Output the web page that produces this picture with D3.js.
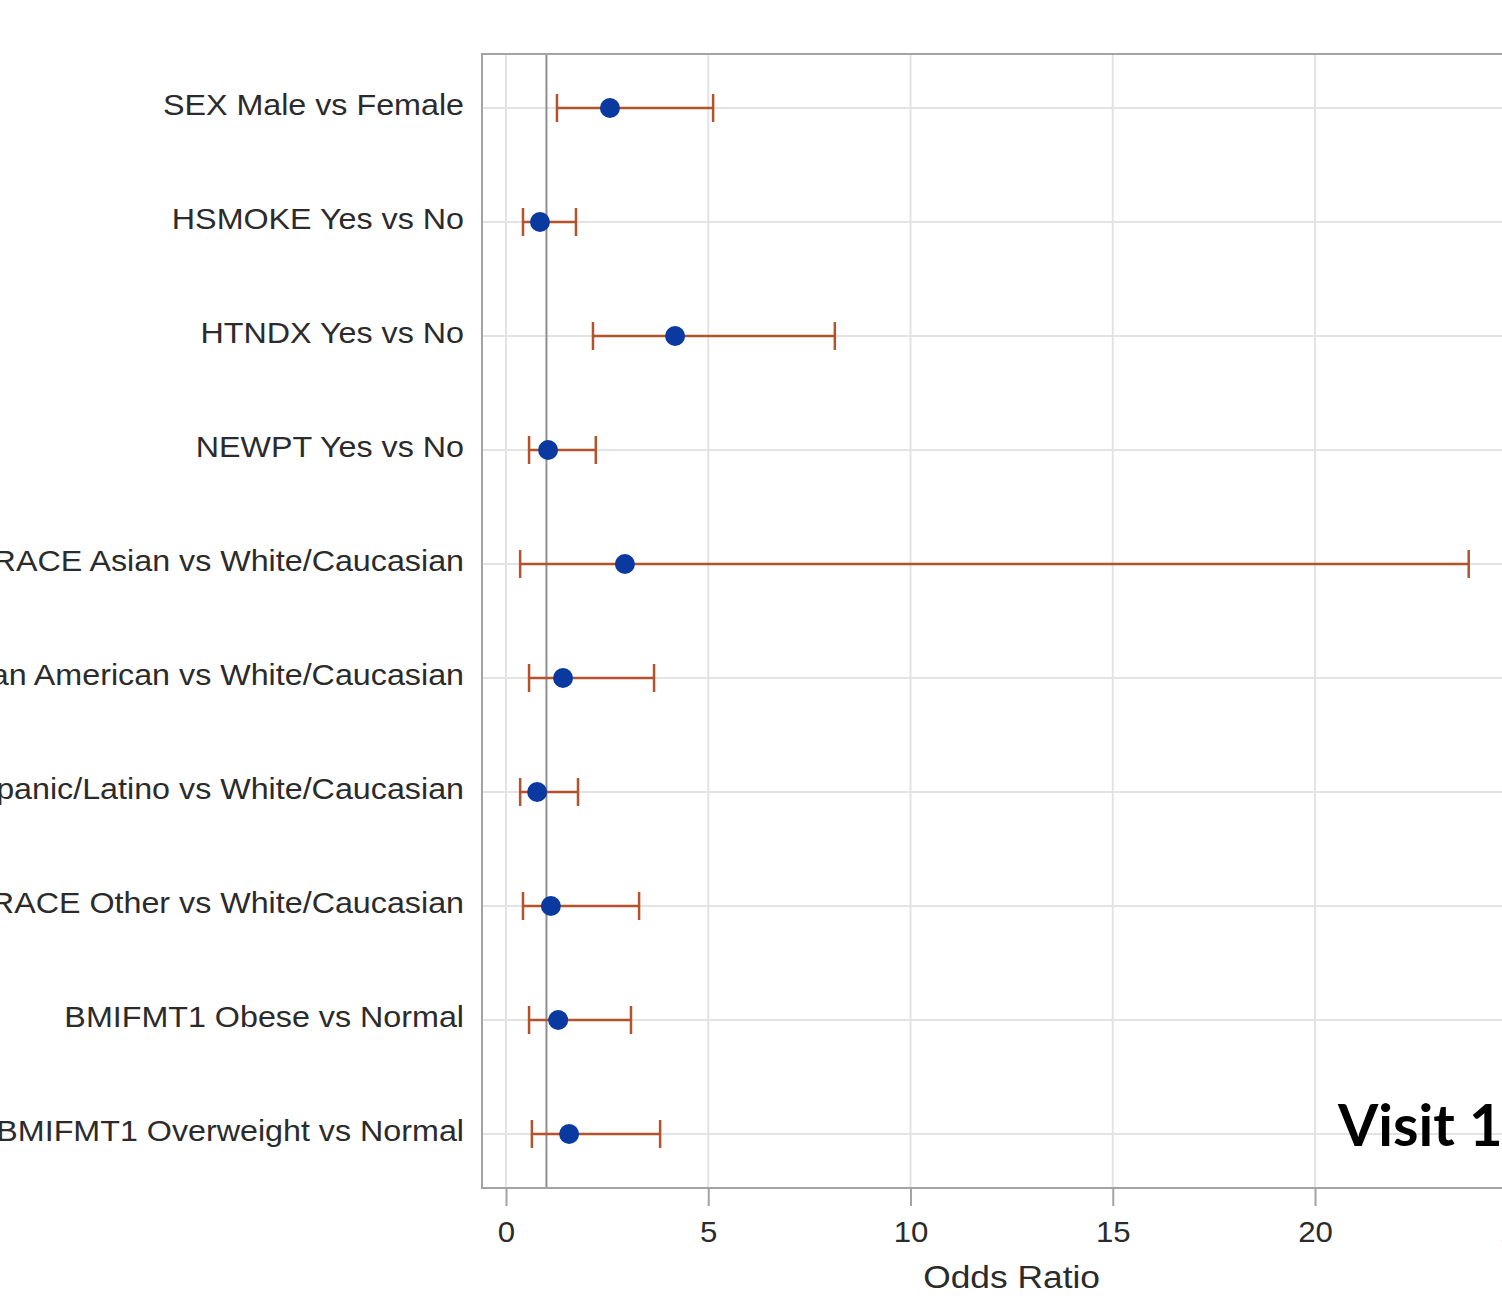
<!DOCTYPE html>
<html><head><meta charset="utf-8">
<script src="https://cdn.jsdelivr.net/npm/d3@7"></script>
<style>body{margin:0;background:#fff;overflow:hidden}svg{display:block}</style>
</head><body>
<svg id="c" width="1502" height="1300"></svg>
<script>
const categories = [
  "SEX Male vs Female",
  "HSMOKE Yes vs No",
  "HTNDX Yes vs No",
  "NEWPT Yes vs No",
  "RACE Asian vs White/Caucasian",
  "RACE African American vs White/Caucasian",
  "RACE Hispanic/Latino vs White/Caucasian",
  "RACE Other vs White/Caucasian",
  "BMIFMT1 Obese vs Normal",
  "BMIFMT1 Overweight vs Normal"
];
const oddsRatio = [2.57, 0.84, 4.18, 1.04, 2.94, 1.41, 0.77, 1.11, 1.29, 1.56];
const lowerCL   = [1.26, 0.42, 2.15, 0.57, 0.35, 0.57, 0.35, 0.42, 0.57, 0.64];
const upperCL   = [5.12, 1.73, 8.13, 2.22, 23.8, 3.66, 1.78, 3.29, 3.09, 3.81];
const xTicks = [0, 5, 10, 15, 20, 25];
const refValue = 1;
const xTitle = "Odds Ratio";
const watermark = "Visit 1";

const FONT = "Liberation Sans, Arial, sans-serif";
const svg = d3.select("#c");
const x = d3.scaleLinear().domain([0, 20]).range([506, 1315]);
const y = d3.scalePoint().domain(categories).range([108, 1134]);
const frame = {left: 482, top: 54, bottom: 1188, right: 1560};

function stretch(sel, f) {
  sel.each(function() {
    const w = this.getComputedTextLength();
    d3.select(this).attr("textLength", w * f).attr("lengthAdjust", "spacingAndGlyphs");
  });
}

// grid
svg.append("g").selectAll("line").data(xTicks).join("line")
  .attr("x1", d => x(d)).attr("x2", d => x(d))
  .attr("y1", frame.top).attr("y2", frame.bottom)
  .attr("stroke", "#e3e3e3").attr("stroke-width", 2);
svg.append("g").selectAll("line").data(categories).join("line")
  .attr("x1", frame.left).attr("x2", frame.right)
  .attr("y1", d => y(d)).attr("y2", d => y(d))
  .attr("stroke", "#e3e3e3").attr("stroke-width", 2);

// reference line
svg.append("line").attr("x1", x(refValue)).attr("x2", x(refValue))
  .attr("y1", frame.top).attr("y2", frame.bottom)
  .attr("stroke", "#8f8f8f").attr("stroke-width", 2);

// frame
svg.append("rect").attr("x", frame.left).attr("y", frame.top)
  .attr("width", frame.right - frame.left).attr("height", frame.bottom - frame.top)
  .attr("fill", "none").attr("stroke", "#a3a3a3").attr("stroke-width", 2);

// x axis
const xa = svg.append("g").attr("transform", `translate(0,${frame.bottom})`)
  .call(d3.axisBottom(x).tickValues(xTicks).tickSize(18).tickPadding(0));
xa.select(".domain").remove();
xa.selectAll(".tick line").attr("stroke", "#a3a3a3").attr("stroke-width", 2);
xa.selectAll(".tick text").attr("fill", "#2b2b2b").attr("font-family", FONT)
  .attr("font-size", 30).attr("dy", null).attr("y", 54).call(stretch, 1.04);

const title = svg.append("text").attr("x", (x(0) + x(25)) / 2).attr("y", 1288)
  .attr("text-anchor", "middle").attr("fill", "#2b2b2b")
  .attr("font-family", FONT).attr("font-size", 31).text(xTitle);
stretch(title, 1.14);

// y labels
svg.append("g").selectAll("text").data(categories).join("text")
  .attr("x", 464).attr("y", d => y(d) + 7)
  .attr("text-anchor", "end").attr("fill", "#2b2b2b")
  .attr("font-family", FONT).attr("font-size", 30)
  .text(d => d).call(stretch, 1.075);

// error bars
const col = "#b5512b";
const g = svg.append("g");
categories.forEach((c, i) => {
  const yy = y(c);
  g.append("line").attr("x1", x(lowerCL[i])).attr("x2", x(upperCL[i]))
    .attr("y1", yy).attr("y2", yy).attr("stroke", col).attr("stroke-width", 2.5);
  [lowerCL[i], upperCL[i]].forEach(v => {
    g.append("line").attr("x1", x(v)).attr("x2", x(v))
      .attr("y1", yy - 14).attr("y2", yy + 14).attr("stroke", col).attr("stroke-width", 2.5);
  });
});
svg.append("g").selectAll("circle").data(categories).join("circle")
  .attr("cx", (d, i) => x(oddsRatio[i])).attr("cy", d => y(d)).attr("r", 10)
  .attr("fill", "#0a3a9f");

// watermark
svg.append("text").attr("x", 1338).attr("y", 1146)
  .attr("font-family", "Lato, 'Open Sans', sans-serif").attr("font-weight", 700)
  .attr("font-size", 58).attr("fill", "#000").text(watermark);
</script>
</body></html>
